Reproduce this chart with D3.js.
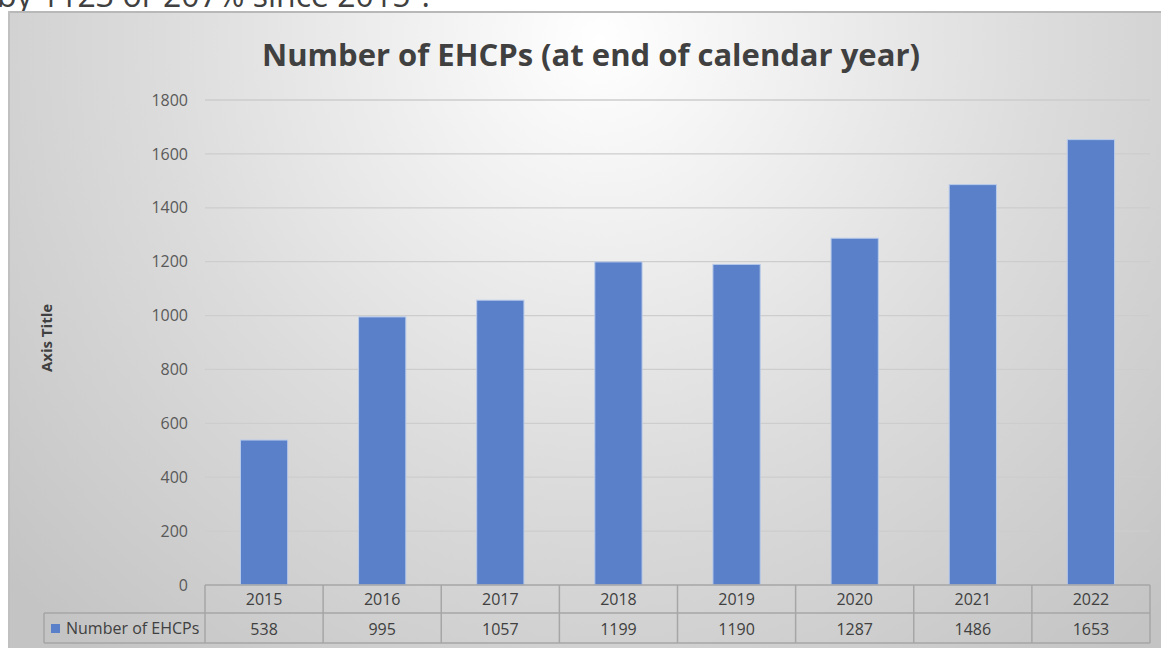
<!DOCTYPE html>
<html>
<head>
<meta charset="utf-8">
<script src="https://cdn.jsdelivr.net/npm/d3@7"></script>
<style>
  body { margin: 0; background: #fff; overflow: hidden; }
  svg { display: block; }
</style>
</head>
<body>
<div id="chart"></div>
<script>
// data
var years = ["2015", "2016", "2017", "2018", "2019", "2020", "2021", "2022"];
var ehcps = [538, 995, 1057, 1199, 1190, 1287, 1486, 1653];
var yTicks = [0, 200, 400, 600, 800, 1000, 1200, 1400, 1600, 1800];
var seriesName = "Number of EHCPs";

var w = 1161, h = 648;
var margin = {top: 100, right: 11, bottom: 63, left: 205};

var svg = d3.select("#chart").append("svg")
    .attr("width", w)
    .attr("height", h);

// background gradient of the chart area
var defs = svg.append("defs");
var grad = defs.append("radialGradient")
    .attr("id", "bg")
    .attr("gradientUnits", "userSpaceOnUse")
    .attr("cx", 600).attr("cy", 40).attr("r", 800);
grad.append("stop").attr("offset", "0").attr("stop-color", "#ffffff");
grad.append("stop").attr("offset", "0.55").attr("stop-color", "#dcdcdc");
grad.append("stop").attr("offset", "1").attr("stop-color", "#c4c4c4");

// line of text above the chart, cut off by the top edge as in the picture
svg.append("text")
    .attr("x", -3).attr("y", 7)
    .attr("font-family", "Open Sans, sans-serif")
    .attr("font-size", 32)
    .attr("fill", "#404040")
    .text("by 1123 or 207% since 2015\u2074.");

svg.append("rect")
    .attr("x", 8).attr("y", 11)
    .attr("width", w - 8).attr("height", h - 11)
    .attr("fill", "url(#bg)");
svg.append("line")
    .attr("x1", 8).attr("x2", w).attr("y1", 12).attr("y2", 12)
    .attr("stroke", "#b8b8b8").attr("stroke-width", 2);
svg.append("line")
    .attr("x1", 9).attr("x2", 9).attr("y1", 11).attr("y2", h)
    .attr("stroke", "#c0c0c0").attr("stroke-width", 2);

// title
svg.append("text")
    .attr("x", 591).attr("y", 66)
    .attr("text-anchor", "middle")
    .attr("font-family", "Open Sans, sans-serif")
    .attr("font-weight", "bold")
    .attr("font-size", 31)
    .attr("fill", "#404040")
    .text("Number of EHCPs (at end of calendar year)");

// scales
var x = d3.scaleBand()
    .domain(years)
    .range([margin.left, w - margin.right])
    .paddingInner(0)
    .paddingOuter(0);

var y = d3.scaleLinear()
    .domain([0, 1800])
    .range([h - margin.bottom, margin.top]);

// gridlines
svg.append("g")
    .selectAll("line")
    .data(yTicks.filter(function(d) { return d > 0; }))
    .enter()
    .append("line")
    .attr("x1", margin.left).attr("x2", w - margin.right)
    .attr("y1", function(d) { return y(d); })
    .attr("y2", function(d) { return y(d); })
    .attr("stroke", "#cdcdcd").attr("stroke-width", 1.3);

// y axis labels
var yAxis = d3.axisLeft(y)
    .tickValues(yTicks)
    .tickFormat(d3.format("d"))
    .tickSize(0)
    .tickPadding(17);
var gy = svg.append("g")
    .attr("transform", "translate(" + margin.left + ",0)")
    .call(yAxis);
gy.select(".domain").remove();
gy.selectAll("text")
    .attr("font-family", "Open Sans, sans-serif")
    .attr("font-size", 16)
    .attr("fill", "#595959");

// axis title
svg.append("text")
    .attr("transform", "translate(52,338) rotate(-90)")
    .attr("text-anchor", "middle")
    .attr("font-family", "Open Sans, sans-serif")
    .attr("font-weight", "bold")
    .attr("font-size", 15)
    .attr("fill", "#404040")
    .text("Axis Title");

// bars
var barW = x.bandwidth() * 0.4;
svg.append("g")
    .selectAll("rect")
    .data(ehcps)
    .enter()
    .append("rect")
    .attr("x", function(d, i) { return x(years[i]) + (x.bandwidth() - barW) / 2; })
    .attr("y", function(d) { return y(d); })
    .attr("width", barW)
    .attr("height", function(d) { return y(0) - y(d); })
    .attr("fill", "#5a80c9")
    .attr("stroke", "#b9cbea")
    .attr("stroke-width", 1);

// data table
var row1 = y(0), row2 = 613, row3 = 643;
var table = svg.append("g")
    .attr("stroke", "#a6a6a6")
    .attr("stroke-width", 1.5)
    .attr("fill", "none");
table.append("line").attr("x1", margin.left).attr("x2", w - margin.right).attr("y1", row1).attr("y2", row1);
table.append("line").attr("x1", 44).attr("x2", w - margin.right).attr("y1", row2).attr("y2", row2);
table.append("line").attr("x1", 44).attr("x2", w - margin.right).attr("y1", row3).attr("y2", row3);
table.append("line").attr("x1", 44).attr("x2", 44).attr("y1", row2).attr("y2", row3);
table.selectAll(".col")
    .data(years.concat(["end"]))
    .enter()
    .append("line")
    .attr("x1", function(d) { return d === "end" ? w - margin.right : x(d); })
    .attr("x2", function(d) { return d === "end" ? w - margin.right : x(d); })
    .attr("y1", row1).attr("y2", row3);

svg.append("g")
    .selectAll("text")
    .data(years)
    .enter()
    .append("text")
    .attr("x", function(d) { return x(d) + x.bandwidth() / 2; })
    .attr("y", 605)
    .attr("text-anchor", "middle")
    .attr("font-family", "Open Sans, sans-serif")
    .attr("font-size", 16)
    .attr("fill", "#404040")
    .text(function(d) { return d; });

svg.append("g")
    .selectAll("text")
    .data(ehcps)
    .enter()
    .append("text")
    .attr("x", function(d, i) { return x(years[i]) + x.bandwidth() / 2; })
    .attr("y", 635)
    .attr("text-anchor", "middle")
    .attr("font-family", "Open Sans, sans-serif")
    .attr("font-size", 16)
    .attr("fill", "#404040")
    .text(function(d) { return d; });

// legend key in the table
svg.append("rect")
    .attr("x", 51).attr("y", 624)
    .attr("width", 9).attr("height", 9)
    .attr("fill", "#5a80c9");
svg.append("text")
    .attr("x", 66).attr("y", 634)
    .attr("font-family", "Open Sans, sans-serif")
    .attr("font-size", 16)
    .attr("fill", "#404040")
    .text(seriesName);
</script>
</body>
</html>
